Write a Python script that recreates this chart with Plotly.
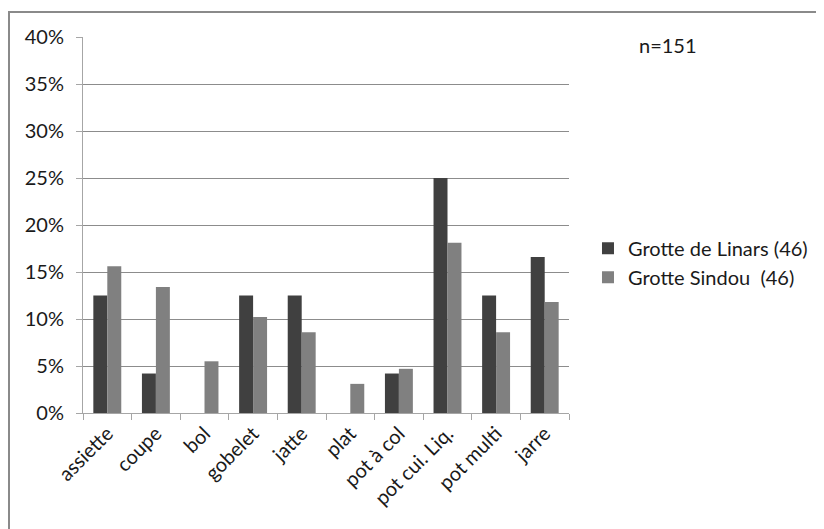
import plotly.graph_objects as go

categories = ["assiette", "coupe", "bol", "gobelet", "jatte", "plat",
              "pot à col", "pot cui. Liq.", "pot multi", "jarre"]
linars = [0.125, 0.042, 0.0, 0.125, 0.125, 0.0, 0.042, 0.25, 0.125, 0.166]
sindou = [0.156, 0.134, 0.055, 0.102, 0.086, 0.031, 0.047, 0.181, 0.086, 0.118]
series_names = ["Grotte de Linars (46)", "Grotte Sindou  (46)"]
note = "n=151"

FONT = "Lato"
FS = 20
OFF = 8  # page body margin
W, H = 824 - OFF, 529 - OFF
L, R, T, B = 82.7 - OFF, 570 - OFF, 37 - OFF, 413.3 - OFF
pw, ph = R - L, B - T

def px(x):
    return (x - OFF - L) / pw

def py(y):
    return (B - (y - OFF)) / ph

fig = go.Figure()
fig.add_trace(go.Bar(x=categories, y=linars, name=series_names[0],
                     marker=dict(color="#404040", line=dict(width=0))))
fig.add_trace(go.Bar(x=categories, y=sindou, name=series_names[1],
                     marker=dict(color="#808080", line=dict(width=0))))

fig.update_layout(
    width=W, height=H,
    margin=dict(l=L, r=W - R, t=T, b=H - B, pad=0),
    paper_bgcolor="white", plot_bgcolor="white",
    barmode="group", bargap=0.425, bargroupgap=0,
    font=dict(family=FONT, size=FS, color="#1a1a1a"),
    showlegend=True,
    legend=dict(x=px(588), y=py(263), xanchor="left", yanchor="middle",
                font=dict(family=FONT, size=FS, color="#1a1a1a"),
                bgcolor="rgba(0,0,0,0)", itemwidth=30, tracegroupgap=0),
    xaxis=dict(type="category", showgrid=False, showline=True, linecolor="#a6a6a6",
               linewidth=1, ticks="outside", tickson="boundaries", ticklen=6,
               tickcolor="#a6a6a6", tickangle=-45,
               tickfont=dict(family=FONT, size=FS, color="#1a1a1a")),
    yaxis=dict(range=[0, 0.4], dtick=0.05, tickformat=".0%", showgrid=True,
               gridcolor="#8c8c8c", gridwidth=1, showline=True, linecolor="#a6a6a6",
               linewidth=1, ticks="outside", ticklen=6, tickcolor="#a6a6a6",
               zeroline=False, ticklabelstandoff=8,
               tickfont=dict(family=FONT, size=FS, color="#1a1a1a")),
    shapes=[dict(type="rect", xref="paper", yref="paper",
                 x0=px(8.5), x1=px(900), y0=py(12), y1=py(600),
                 line=dict(color="#8a8a8a", width=2), fillcolor="rgba(0,0,0,0)",
                 layer="above")],
    annotations=[dict(text=note, xref="paper", yref="paper", x=px(638), y=py(45),
                      xanchor="left", yanchor="middle", showarrow=False,
                      font=dict(family=FONT, size=FS, color="#1a1a1a"))],
)

fig.write_html("out.html")
